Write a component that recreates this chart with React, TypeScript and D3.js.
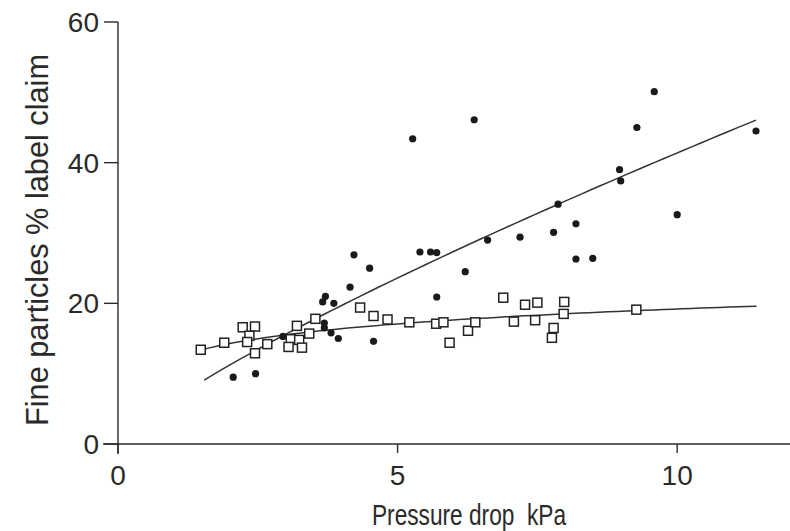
import React from "react";
import * as d3 from "d3";

// Filled dots series
const dotX = [2.06, 2.46, 2.95, 3.66, 3.71, 3.86, 3.69, 3.69, 3.81, 3.94, 4.15, 4.22, 4.50, 4.57, 5.27, 5.40, 5.59, 5.70, 5.70, 6.21, 6.37, 6.61, 7.19, 7.79, 7.87, 8.19, 8.19, 8.49, 8.97, 8.99, 9.28, 9.59, 10.0, 11.41];
const dotY = [9.5, 10.0, 15.3, 20.2, 21.0, 20.0, 17.2, 16.5, 15.8, 15.0, 22.3, 26.9, 25.0, 14.6, 43.4, 27.3, 27.3, 27.2, 20.9, 24.5, 46.1, 29.0, 29.4, 30.1, 34.1, 31.3, 26.3, 26.4, 39.0, 37.4, 45.0, 50.1, 32.6, 44.5];

// Open squares series
const sqX = [1.48, 1.90, 2.23, 2.45, 2.35, 2.31, 2.45, 2.67, 3.20, 3.53, 3.42, 3.09, 3.24, 3.05, 3.29, 4.33, 4.57, 4.82, 5.21, 5.69, 5.82, 5.93, 6.26, 6.39, 6.89, 7.08, 7.28, 7.50, 7.46, 7.79, 7.76, 7.98, 7.97, 9.27];
const sqY = [13.4, 14.4, 16.6, 16.7, 15.4, 14.5, 12.9, 14.2, 16.8, 17.8, 15.7, 14.9, 14.8, 13.8, 13.7, 19.4, 18.2, 17.7, 17.3, 17.1, 17.3, 14.4, 16.1, 17.3, 20.8, 17.4, 19.8, 20.1, 17.6, 16.5, 15.1, 20.2, 18.5, 19.1];

// Fitted curves (parameters of the fits)
const dotFit = { a: 6.41, c: 0.81, from: 1.54, to: 11.41 }; // y = a * x^c
const sqFit = { a: 12.17, b: 3.05, from: 1.45, to: 11.42 }; // y = a + b ln x

const xTicks = [0, 5, 10];
const yTicks = [0, 20, 40, 60];
const xTitle = "Pressure drop  kPa";
const yTitle = "Fine particles % label claim";

const W = 790, H = 531;
const INK = "#2a2a2a";
const FONT = "'Liberation Sans', Arial, sans-serif";

export default function App() {
  const x = d3.scaleLinear().domain([0, 12]).range([118, 789]);
  const y = d3.scaleLinear().domain([0, 60]).range([444, 22]);

  const sample = (from: number, to: number, f: (v: number) => number) =>
    d3.range(0, 61).map((i) => {
      const v = from + ((to - from) * i) / 60;
      return [v, f(v)] as [number, number];
    });

  const line = d3.line<[number, number]>().x((d) => x(d[0])).y((d) => y(d[1]));
  const dotCurve = sample(dotFit.from, dotFit.to, (v) => dotFit.a * Math.pow(v, dotFit.c));
  const sqCurve = sample(sqFit.from, sqFit.to, (v) => sqFit.a + sqFit.b * Math.log(v));

  const s = 9;

  return (
    <svg width={W} height={H} style={{ position: "absolute", left: 0, top: 0, background: "#fff" }}>
      <rect width={W} height={H} fill="#fff" />
      {/* axes */}
      <line x1={103} x2={W} y1={y(0)} y2={y(0)} stroke={INK} strokeWidth={1.4} />
      <line x1={x(0)} x2={x(0)} y1={y(60)} y2={y(0) + 10} stroke={INK} strokeWidth={1.4} />
      {yTicks.map((t) => (
        <g key={"y" + t}>
          <line x1={x(0) - 14} x2={x(0)} y1={y(t)} y2={y(t)} stroke={INK} strokeWidth={1.4} />
          <text x={99} y={y(t)} dy="0.36em" textAnchor="end" fontFamily={FONT} fontSize={28} fill={INK}>
            {t}
          </text>
        </g>
      ))}
      {xTicks.map((t) => (
        <g key={"x" + t}>
          <line x1={x(t)} x2={x(t)} y1={y(0)} y2={y(0) + 9} stroke={INK} strokeWidth={1.4} />
          <text x={x(t)} y={485} textAnchor="middle" fontFamily={FONT} fontSize={28} fill={INK}>
            {t}
          </text>
        </g>
      ))}
      <text
        x={469}
        y={525}
        textAnchor="middle"
        fontFamily={FONT}
        fontSize={30}
        fill={INK}
        textLength={194}
        lengthAdjust="spacingAndGlyphs"
        style={{ whiteSpace: "pre" }}
      >
        {xTitle}
      </text>
      <text
        transform={`translate(48, 240) rotate(-90)`}
        textAnchor="middle"
        fontFamily={FONT}
        fontSize={32}
        fill={INK}
        textLength={372}
        lengthAdjust="spacingAndGlyphs"
      >
        {yTitle}
      </text>

      {/* fits */}
      <path d={line(dotCurve) || ""} fill="none" stroke="#333" strokeWidth={1.5} />
      <path d={line(sqCurve) || ""} fill="none" stroke="#333" strokeWidth={1.5} />

      {/* squares */}
      {sqX.map((v, i) => (
        <rect
          key={"s" + i}
          x={x(v) - s / 2}
          y={y(sqY[i]) - s / 2}
          width={s}
          height={s}
          fill="#fff"
          stroke="#222"
          strokeWidth={1.5}
        />
      ))}
      {/* dots */}
      {dotX.map((v, i) => (
        <circle key={"d" + i} cx={x(v)} cy={y(dotY[i])} r={3.6} fill="#1a1a1a" />
      ))}
    </svg>
  );
}
